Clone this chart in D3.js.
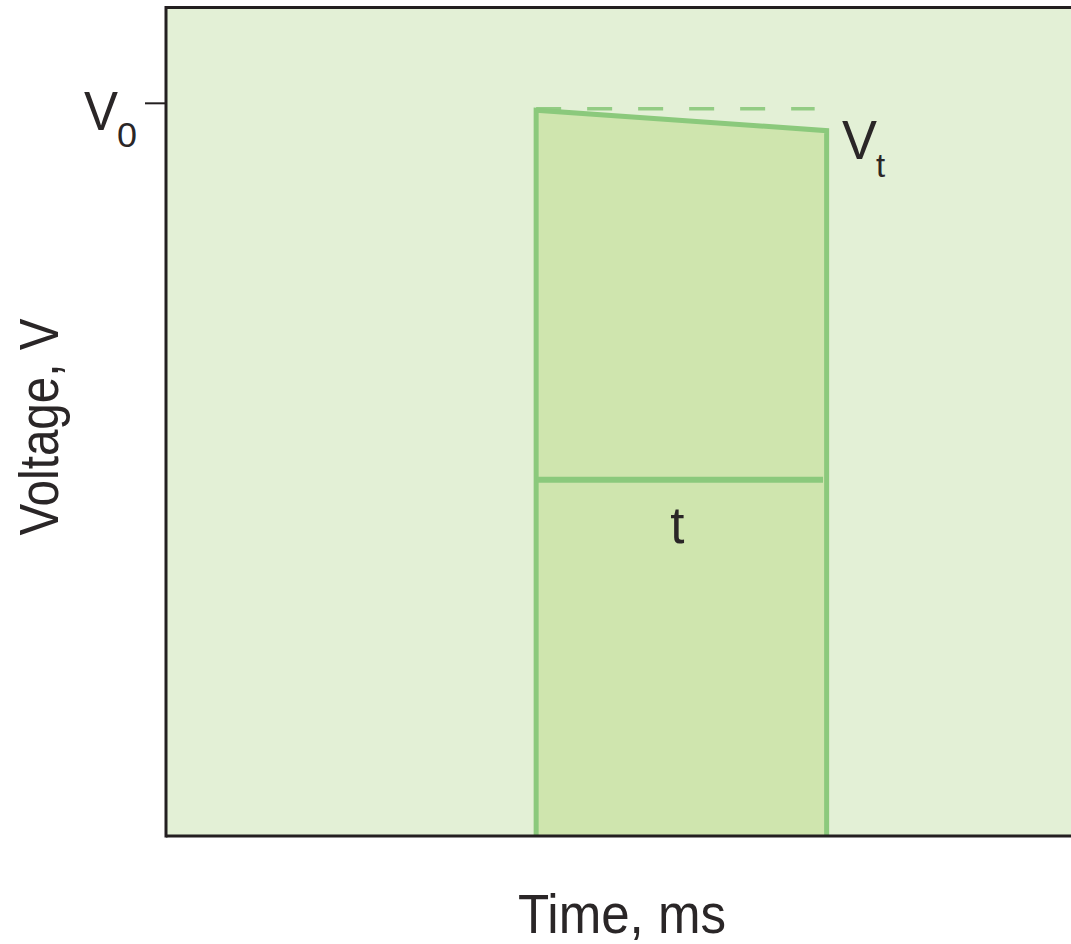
<!DOCTYPE html>
<html><head><meta charset="utf-8">
<script src="https://cdn.jsdelivr.net/npm/d3@7"></script>
<style>html,body{margin:0;padding:0;background:#fff;}svg{display:block;}</style>
</head><body>
<svg id="chart" width="1071" height="944"></svg>
<script>
// Data (arbitrary units)
const timeDomain = [0, 10];
const voltageDomain = [0, 1.13];
const pulseStart = 4.09;
const pulseEnd = 7.30;
const pulseTimes = [pulseStart, pulseStart, pulseEnd, pulseEnd];
const pulseVoltages = [0, 0.99, 0.962, 0];
const referenceVoltage = 0.992;   // dashed V0 level
const midVoltage = 0.486;         // duration bar
const midEnd = 7.26;
const durationLabelTime = 5.65;
const yTickValues = [1.0];
const yTickLabels = ["V"];

const svg = d3.select("#chart");
const plotLeft = 166, plotRight = 1071, plotTop = 7.5, plotBottom = 836;

const x = d3.scaleLinear().domain(timeDomain).range([plotLeft, plotRight]);
const y = d3.scaleLinear().domain(voltageDomain).range([plotBottom, plotTop]);

const lineCol = "#8bc97c";
const textCol = "#2a2627";
const font = "'Liberation Sans', Arial, sans-serif";

// plot background
svg.append("rect").attr("x", x(timeDomain[0])).attr("y", y(voltageDomain[1]))
  .attr("width", x(timeDomain[1]) - x(timeDomain[0]))
  .attr("height", y(voltageDomain[0]) - y(voltageDomain[1]))
  .attr("fill", "#e3f0d6");

// pulse
const pts = pulseTimes.map((t, i) => [x(t), y(pulseVoltages[i])]);
svg.append("path").attr("d", d3.line()(pts) + "Z").attr("fill", "#cfe5ae").attr("stroke", "none");
svg.append("path").attr("d", d3.line()(pts)).attr("fill", "none")
  .attr("stroke", lineCol).attr("stroke-width", 5).attr("stroke-linejoin", "miter");

// dashed reference
svg.append("line").attr("x1", x(pulseStart)).attr("x2", x(pulseEnd) - 12)
  .attr("y1", y(referenceVoltage)).attr("y2", y(referenceVoltage))
  .attr("stroke", lineCol).attr("stroke-width", 3.5).attr("stroke-dasharray", "25,26")
  .attr("opacity", 0.9);

// mid duration line
svg.append("line").attr("x1", x(pulseStart)).attr("x2", x(midEnd))
  .attr("y1", y(midVoltage)).attr("y2", y(midVoltage))
  .attr("stroke", lineCol).attr("stroke-width", 6);

// frame: left, top, bottom
svg.append("line").attr("x1", plotLeft).attr("x2", plotLeft).attr("y1", plotTop - 1.5).attr("y2", plotBottom + 1.5)
  .attr("stroke", "#231f20").attr("stroke-width", 3);
svg.append("line").attr("x1", plotLeft).attr("x2", plotRight).attr("y1", plotTop).attr("y2", plotTop)
  .attr("stroke", "#231f20").attr("stroke-width", 3);
svg.append("line").attr("x1", plotLeft).attr("x2", plotRight).attr("y1", plotBottom).attr("y2", plotBottom)
  .attr("stroke", "#231f20").attr("stroke-width", 3);

// y axis tick (V0)
const yAxis = d3.axisLeft(y).tickValues(yTickValues).tickSize(20).tickFormat(() => "");
const ga = svg.append("g").attr("transform", `translate(${plotLeft - 1},0)`).call(yAxis);
ga.select(".domain").remove();
ga.selectAll(".tick line").attr("stroke", "#231f20").attr("stroke-width", 2);

svg.append("text").attr("x", 84).attr("y", y(yTickValues[0]) + 27)
  .attr("font-family", font).attr("font-size", 56).attr("fill", textCol)
  .attr("textLength", 34).attr("lengthAdjust", "spacingAndGlyphs").text(yTickLabels[0]);
svg.append("text").attr("x", 117).attr("y", y(yTickValues[0]) + 44)
  .attr("font-family", font).attr("font-size", 35).attr("fill", textCol)
  .attr("textLength", 20).attr("lengthAdjust", "spacingAndGlyphs").text("0");

// Vt label
svg.append("text").attr("x", 842).attr("y", y(pulseVoltages[2]) + 28)
  .attr("font-family", font).attr("font-size", 56).attr("fill", textCol)
  .attr("textLength", 35).attr("lengthAdjust", "spacingAndGlyphs").text("V");
svg.append("text").attr("x", 876).attr("y", y(pulseVoltages[2]) + 46)
  .attr("font-family", font).attr("font-size", 33).attr("fill", textCol).text("t");

// t label
svg.append("text").attr("x", x(durationLabelTime)).attr("y", 543)
  .attr("text-anchor", "middle")
  .attr("font-family", font).attr("font-size", 51).attr("fill", textCol).text("t");

// axis titles
svg.append("text").attr("x", 622).attr("y", 933).attr("text-anchor", "middle")
  .attr("font-family", font).attr("font-size", 56).attr("fill", textCol)
  .attr("textLength", 208).attr("lengthAdjust", "spacingAndGlyphs").text("Time, ms");
svg.append("text").attr("transform", "translate(58,427) rotate(-90)").attr("text-anchor", "middle")
  .attr("font-family", font).attr("font-size", 56).attr("fill", textCol)
  .attr("textLength", 217).attr("lengthAdjust", "spacingAndGlyphs").text("Voltage, V");
</script>
</body></html>
